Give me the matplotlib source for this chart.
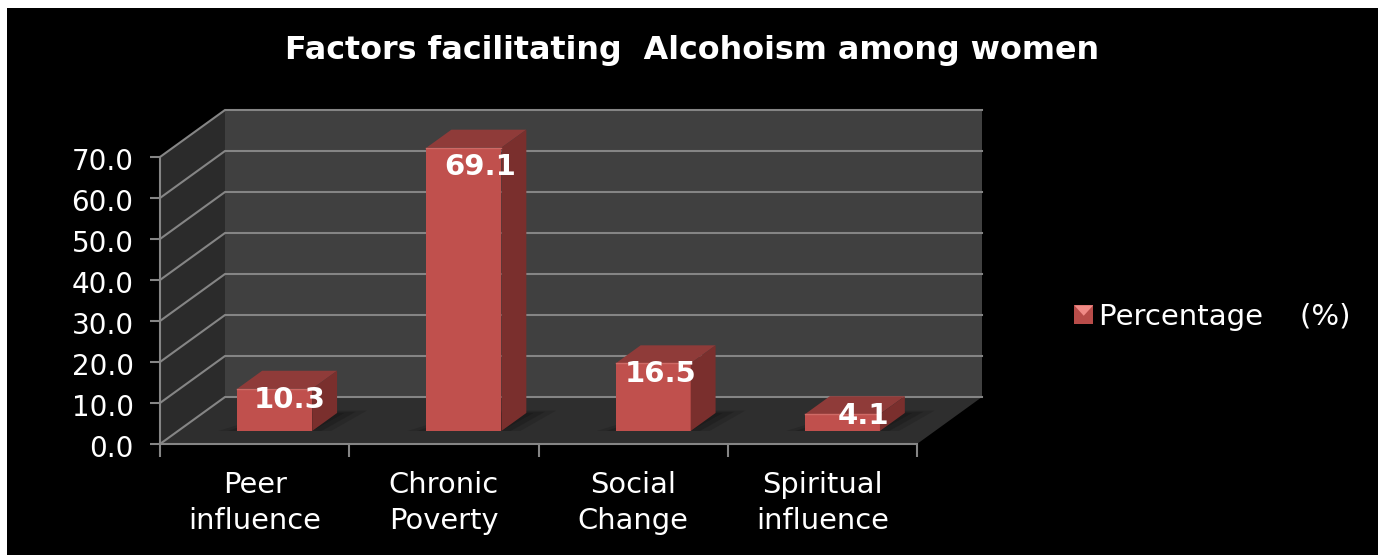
import numpy as np
import matplotlib
matplotlib.use("Agg")
import matplotlib.pyplot as plt
from matplotlib.legend_handler import HandlerBase
from matplotlib.patches import Patch, Polygon, Rectangle
from matplotlib.transforms import ScaledTranslation

categories = ["Peer\ninfluence", "Chronic\nPoverty", "Social\nChange", "Spiritual\ninfluence"]
values = [10.3, 69.1, 16.5, 4.1]
y_ticks = [0, 10, 20, 30, 40, 50, 60, 70]
title = "Factors facilitating  Alcohoism among women"
legend_label = "Percentage    (%)"

W, H = 1383, 555
GRID = "#858585"
RED = "#c0504d"

# depth of the box, in data units (x = categories, y = percent)
DX = 65 / 189.25
DY = 47 / 4.1
BAR_W = 0.396
D0, D1 = 0.277, 0.66


def proj(x, y, d):
    return (x + d * DX, y + d * DY)


def poly(ax, pts, color, z, alpha=1.0):
    ax.add_patch(Polygon(pts, closed=True, fc=color, ec="none", zorder=z, alpha=alpha, clip_on=False))


class KeyHandler(HandlerBase):
    def create_artists(self, legend, orig, xd, yd, w, h, fs, trans):
        s = min(w, h) * 1.0
        y0 = (h - s) / 2 - yd
        x0 = -xd
        base = Rectangle((x0, y0), s, s, fc="#b84c49", ec="none", transform=trans)
        tri = Polygon([(x0, y0 + s), (x0 + s, y0 + s), (x0 + s / 2, y0 + s * 0.45)],
                      fc="#f08a86", ec="none", transform=trans)
        return [base, tri]


fig = plt.figure(figsize=(W / 100, H / 100), dpi=100, facecolor="white")
fig.add_artist(Rectangle((7 / W, 0), (1378 - 7) / W, (555 - 8) / H,
                         transform=fig.transFigure, fc="black", ec="none", zorder=-5))

# axes = front plane of the box
ax = fig.add_axes([160 / W, 1 - 444 / H, (917 - 160) / W, (444 - 157) / H])
ax.set_xlim(0, 4)
ax.set_ylim(0, 70)
ax.patch.set_alpha(0)
for s in ax.spines.values():
    s.set_visible(False)

# walls and floor
poly(ax, [proj(0, 0, 1), proj(4, 0, 1), proj(4, 70, 1), proj(0, 70, 1)], "#404040", 1)
poly(ax, [proj(0, 0, 0), proj(0, 0, 1), proj(0, 70, 1), proj(0, 70, 0)], "#2b2b2b", 1)
poly(ax, [proj(0, 0, 0), proj(4, 0, 0), proj(4, 0, 1), proj(0, 0, 1)], "#2e2e2e", 1)

for t in y_ticks:
    xs, ys = zip(proj(0, t, 0), proj(0, t, 1), proj(4, t, 1))
    ax.plot(xs, ys, color=GRID, lw=1.5, zorder=2, clip_on=False, solid_joinstyle="miter")
ax.plot([0, 0], [0, 70], color=GRID, lw=1.5, zorder=3, clip_on=False)
ax.plot([0, 4], [0, 0], color=GRID, lw=1.5, zorder=3, clip_on=False)

ax.set_xticks(range(5))
ax.set_xticklabels([])
ax.set_yticks(y_ticks)
ax.set_yticklabels([f"{t:.1f}" for t in y_ticks], color="white", fontsize=20)
ax.tick_params(axis="y", length=7, width=1.5, color=GRID, pad=12)
ax.tick_params(axis="x", length=9, width=1.5, color=GRID)
shift = ScaledTranslation(0, -2 / 100, fig.dpi_scale_trans)
for lab in ax.get_yticklabels():
    lab.set_transform(lab.get_transform() + shift)

for i, c in enumerate(categories):
    ax.annotate(c, (i + 0.5, 0), xytext=(0, -19.5), textcoords="offset points", ha="center", va="top",
                color="white", fontsize=20.8, linespacing=1.38, annotation_clip=False)

# bars
label_off = [(11, -8), (12, -14), (5, -8), (15, -1)]
xpos = np.arange(4) + 0.5 - BAR_W / 2 + 0.011
for i, v in enumerate(values):
    x0 = xpos[i]
    x1 = x0 + BAR_W
    # shadow on the floor
    for grow, a in ((0.0, 0.3), (0.05, 0.25), (0.1, 0.2)):
        poly(ax, [proj(x0 - grow, 0, D0), proj(x1 + grow, 0, D0),
                  proj(x1 + grow + 0.04, 0, D1 + grow / 2), proj(x0 + 0.1, 0, D1 + grow / 2)], "#111111", 3, a)
    base = D0 * DY
    face = x0 + D0 * DX
    ax.bar(face, v, width=BAR_W, bottom=base, align="edge", color=RED, zorder=5, clip_on=False)
    poly(ax, [proj(x0, v, D0), proj(x1, v, D0), proj(x1, v, D1), proj(x0, v, D1)], "#8f3b39", 5)
    poly(ax, [proj(x1, 0, D0), proj(x1, 0, D1), proj(x1, v, D1), proj(x1, v, D0)], "#7a2f2d", 5)
    ax.plot([face, face + BAR_W], [base + v, base + v], color="#cf6a66", lw=1, zorder=6, clip_on=False)
    ax.annotate(f"{v:.1f}", (face + BAR_W / 2, base + v), xytext=label_off[i], textcoords="offset points",
                ha="center", va="center", color="white", fontsize=21, fontweight="bold", zorder=8,
                annotation_clip=False)

fig.text(692 / W, 1 - 50 / H, title, color="white", fontsize=22.9, fontweight="bold", ha="center", va="center")

handle = Patch(color=RED)
leg = fig.legend([handle], [legend_label], handler_map={Patch: KeyHandler()},
                 loc="center left", bbox_to_anchor=(1048 / W, 1 - 317 / H), frameon=False,
                 fontsize=21, labelcolor="white", handlelength=0.65, handletextpad=0.2)

fig.savefig("out.png", dpi=100, facecolor="white")
